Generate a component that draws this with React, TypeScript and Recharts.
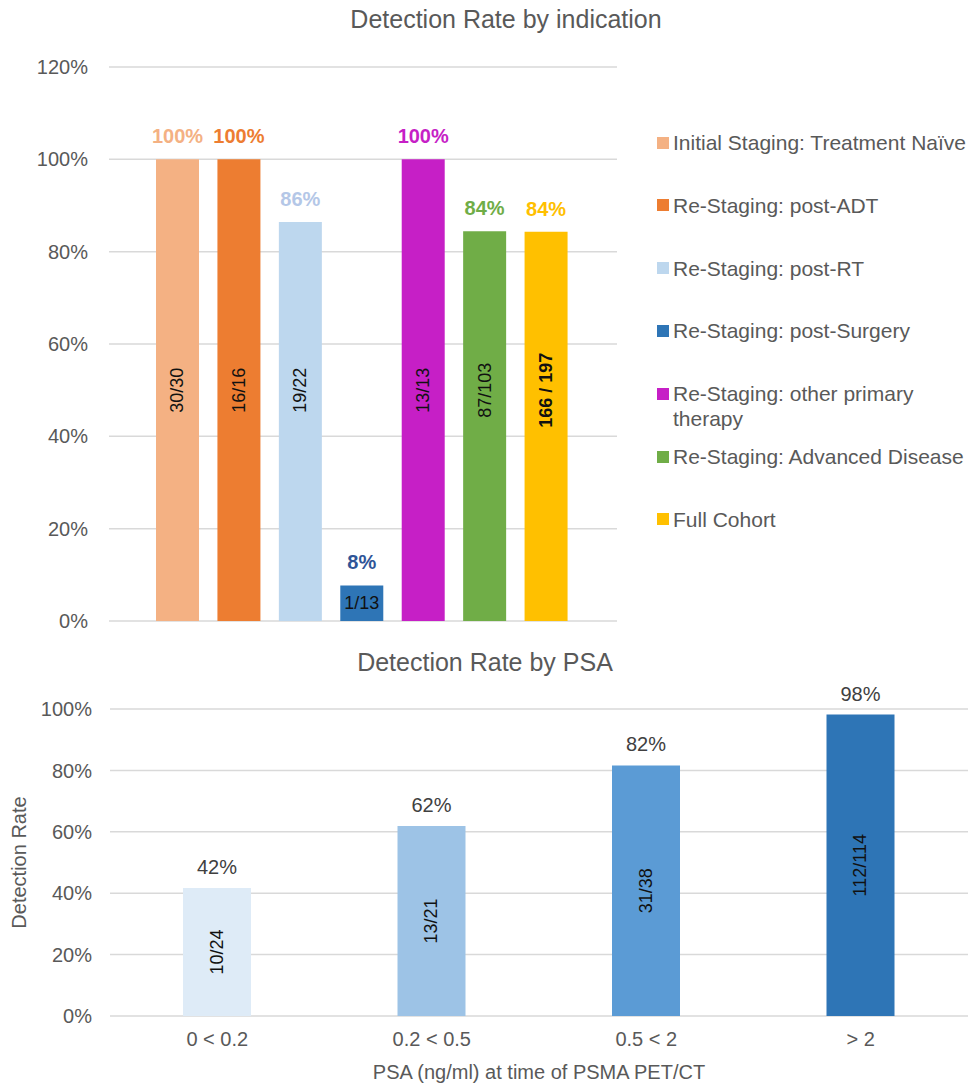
import React from 'react';
import { BarChart, Bar, XAxis, YAxis, CartesianGrid, Cell, LabelList } from 'recharts';

// ---- Detection rate by indication ----
const indicationNames = [
  'Initial Staging: Treatment Naïve',
  'Re-Staging: post-ADT',
  'Re-Staging: post-RT',
  'Re-Staging: post-Surgery',
  'Re-Staging: other primary therapy',
  'Re-Staging: Advanced Disease',
  'Full Cohort',
];
const indicationRates = [100, 100, 86.4, 7.7, 100, 84.4, 84.3];
const indicationCounts = ['30/30', '16/16', '19/22', '1/13', '13/13', '87/103', '166 / 197'];
const indicationTicks = [0, 20, 40, 60, 80, 100, 120];

// ---- Detection rate by PSA ----
const psaRanges = ['0 < 0.2', '0.2 < 0.5', '0.5 < 2', '> 2'];
const psaRates = [41.7, 61.9, 81.6, 98.2];
const psaCounts = ['10/24', '13/21', '31/38', '112/114'];
const psaTicks = [0, 20, 40, 60, 80, 100];

// Palette
const indicationBarColors = ['#f4b183', '#ed7d31', '#bdd7ee', '#2e75b6', '#c61fc6', '#70ad47', '#ffc000'];
const indicationLabelColors = ['#f4b183', '#ed7d31', '#b4c7e7', '#2f5597', '#c61fc6', '#70ad47', '#ffc000'];
const psaBarColors = ['#deebf7', '#9dc3e6', '#5b9bd5', '#2e75b6'];

const FONT = "'Liberation Sans', Arial, Helvetica, sans-serif";
const GREY = '#595959';
const GRID = '#d9d9d9';

const indicationData = indicationNames.map((name, i) => ({
  name,
  rate: indicationRates[i],
  count: indicationCounts[i],
}));

const psaData = psaRanges.map((range, i) => ({
  range,
  rate: psaRates[i],
  count: psaCounts[i],
}));

const pct = (v: number) => `${v}%`;

function boxOf(p: any) {
  const vb = p.viewBox || {};
  return {
    x: Number(p.x ?? vb.x),
    y: Number(p.y ?? vb.y),
    width: Number(p.width ?? vb.width),
    height: Number(p.height ?? vb.height),
  };
}

function indexOf(p: any, list: string[]) {
  return typeof p.index === 'number' ? p.index : list.indexOf(String(p.value));
}

// Bold coloured percentage above each indication bar
function IndicationValueLabel(props: any) {
  const { x, y, width } = boxOf(props);
  const i = indexOf(props, indicationNames);
  return (
    <text
      x={x + width / 2}
      y={y - 23}
      textAnchor="middle"
      dominantBaseline="central"
      fontFamily={FONT}
      fontSize={20}
      fontWeight="bold"
      fill={indicationLabelColors[i]}
    >
      {Math.round(indicationRates[i])}%
    </text>
  );
}

// Patient counts: vertical text at the 50% level, horizontal when the bar is short
function IndicationCountLabel(props: any) {
  const { x, y, width, height } = boxOf(props);
  const i = indexOf(props, indicationCounts);
  const cx = x + width / 2;
  const bold = indicationNames[i] === 'Full Cohort';
  const common = {
    textAnchor: 'middle' as const,
    dominantBaseline: 'central' as const,
    fontFamily: FONT,
    fontSize: 18,
    fontWeight: bold ? 'bold' : 'normal',
    fill: '#111',
  };
  if (height < 60) {
    return (
      <text x={cx} y={y + height / 2} {...common}>
        {indicationCounts[i]}
      </text>
    );
  }
  const base = y + height;
  const cy = base - height * (50 / indicationRates[i]);
  return (
    <text x={cx} y={cy} transform={`rotate(-90 ${cx} ${cy})`} {...common}>
      {indicationCounts[i]}
    </text>
  );
}

function PsaValueLabel(props: any) {
  const { x, y, width } = boxOf(props);
  const i = indexOf(props, psaRanges);
  return (
    <text
      x={x + width / 2}
      y={y - 21}
      textAnchor="middle"
      dominantBaseline="central"
      fontFamily={FONT}
      fontSize={20}
      fill="#404040"
    >
      {Math.round(psaRates[i])}%
    </text>
  );
}

function PsaCountLabel(props: any) {
  const { x, y, width, height } = boxOf(props);
  const i = indexOf(props, psaCounts);
  const cx = x + width / 2;
  const cy = y + height / 2;
  return (
    <text
      x={cx}
      y={cy}
      transform={`rotate(-90 ${cx} ${cy})`}
      textAnchor="middle"
      dominantBaseline="central"
      fontFamily={FONT}
      fontSize={18}
      fill="#111"
    >
      {psaCounts[i]}
    </text>
  );
}

function PsaYTitle(props: any) {
  const vb = props.viewBox || {};
  const cx = 19;
  const cy = Number(vb.y) + Number(vb.height) / 2;
  return (
    <text
      x={cx}
      y={cy}
      transform={`rotate(-90 ${cx} ${cy})`}
      textAnchor="middle"
      dominantBaseline="central"
      fontFamily={FONT}
      fontSize={20}
      fill={GREY}
    >
      Detection Rate
    </text>
  );
}

function PsaXTitle(props: any) {
  const vb = props.viewBox || {};
  return (
    <text
      x={Number(vb.x) + Number(vb.width) / 2}
      y={Number(vb.y) + 56}
      textAnchor="middle"
      dominantBaseline="central"
      fontFamily={FONT}
      fontSize={20}
      fill={GREY}
    >
      PSA (ng/ml) at time of PSMA PET/CT
    </text>
  );
}

function Title({ text, cx, cy }: { text: string; cx: number; cy: number }) {
  return (
    <div
      style={{
        position: 'absolute',
        left: cx,
        top: cy,
        transform: 'translate(-50%, -50%)',
        whiteSpace: 'nowrap',
        fontSize: 25,
        lineHeight: 1,
        color: GREY,
      }}
    >
      {text}
    </div>
  );
}

function IndicationLegend() {
  return (
    <div style={{ position: 'absolute', left: 657, top: 130, width: 316 }}>
      {indicationNames.map((name, i) => (
        <div
          key={name}
          style={{
            position: 'absolute',
            left: 0,
            top: i * 62.8,
            display: 'flex',
            alignItems: 'flex-start',
          }}
        >
          <div
            style={{
              width: 12,
              height: 12,
              marginTop: 6.5,
              marginRight: 4,
              background: indicationBarColors[i],
              flex: 'none',
            }}
          />
          <div style={{ width: 300, fontSize: 21, lineHeight: '25px', color: GREY }}>{name}</div>
        </div>
      ))}
    </div>
  );
}

export default function App() {
  return (
    <div
      style={{
        position: 'absolute',
        left: 0,
        top: 0,
        width: 973,
        height: 1086,
        background: '#fff',
        fontFamily: FONT,
        overflow: 'hidden',
      }}
    >
      {/* Top chart */}
      <div style={{ position: 'absolute', left: 0, top: 0 }}>
        <BarChart
          width={973}
          height={640}
          data={indicationData}
          margin={{ top: 67, right: 356, bottom: 19, left: 0 }}
        >
          <CartesianGrid vertical={false} stroke={GRID} strokeWidth={1.5} />
          <XAxis dataKey="name" hide padding={{ left: 38, right: 40 }} />
          <YAxis
            width={109}
            domain={[0, 120]}
            ticks={indicationTicks}
            tickFormatter={pct}
            axisLine={false}
            tickLine={false}
            tickSize={0}
            tickMargin={21}
            tick={{ fill: GREY, fontSize: 20, fontFamily: FONT }}
          />
          <Bar dataKey="rate" barSize={43} isAnimationActive={false}>
            {indicationData.map((d, i) => (
              <Cell key={d.name} fill={indicationBarColors[i]} />
            ))}
            <LabelList dataKey="name" content={IndicationValueLabel} />
            <LabelList dataKey="count" content={IndicationCountLabel} />
          </Bar>
        </BarChart>
      </div>
      <Title text="Detection Rate by indication" cx={506} cy={19} />
      <IndicationLegend />

      {/* Bottom chart */}
      <div style={{ position: 'absolute', left: 0, top: 640 }}>
        <BarChart
          width={973}
          height={446}
          data={psaData}
          margin={{ top: 69, right: 5, bottom: 0, left: 0 }}
        >
          <CartesianGrid vertical={false} stroke={GRID} strokeWidth={1.5} />
          <XAxis
            dataKey="range"
            height={70}
            axisLine={false}
            tickLine={false}
            tickSize={0}
            tickMargin={16}
            tick={{ fill: GREY, fontSize: 20, fontFamily: FONT }}
            label={<PsaXTitle />}
          />
          <YAxis
            width={110}
            domain={[0, 100]}
            ticks={psaTicks}
            tickFormatter={pct}
            axisLine={false}
            tickLine={false}
            tickSize={0}
            tickMargin={18}
            tick={{ fill: GREY, fontSize: 20, fontFamily: FONT }}
            label={<PsaYTitle />}
          />
          <Bar dataKey="rate" barSize={68} isAnimationActive={false}>
            {psaData.map((d, i) => (
              <Cell key={d.range} fill={psaBarColors[i]} />
            ))}
            <LabelList dataKey="range" content={PsaValueLabel} />
            <LabelList dataKey="count" content={PsaCountLabel} />
          </Bar>
        </BarChart>
      </div>
      <Title text="Detection Rate by PSA" cx={485} cy={662} />
    </div>
  );
}
